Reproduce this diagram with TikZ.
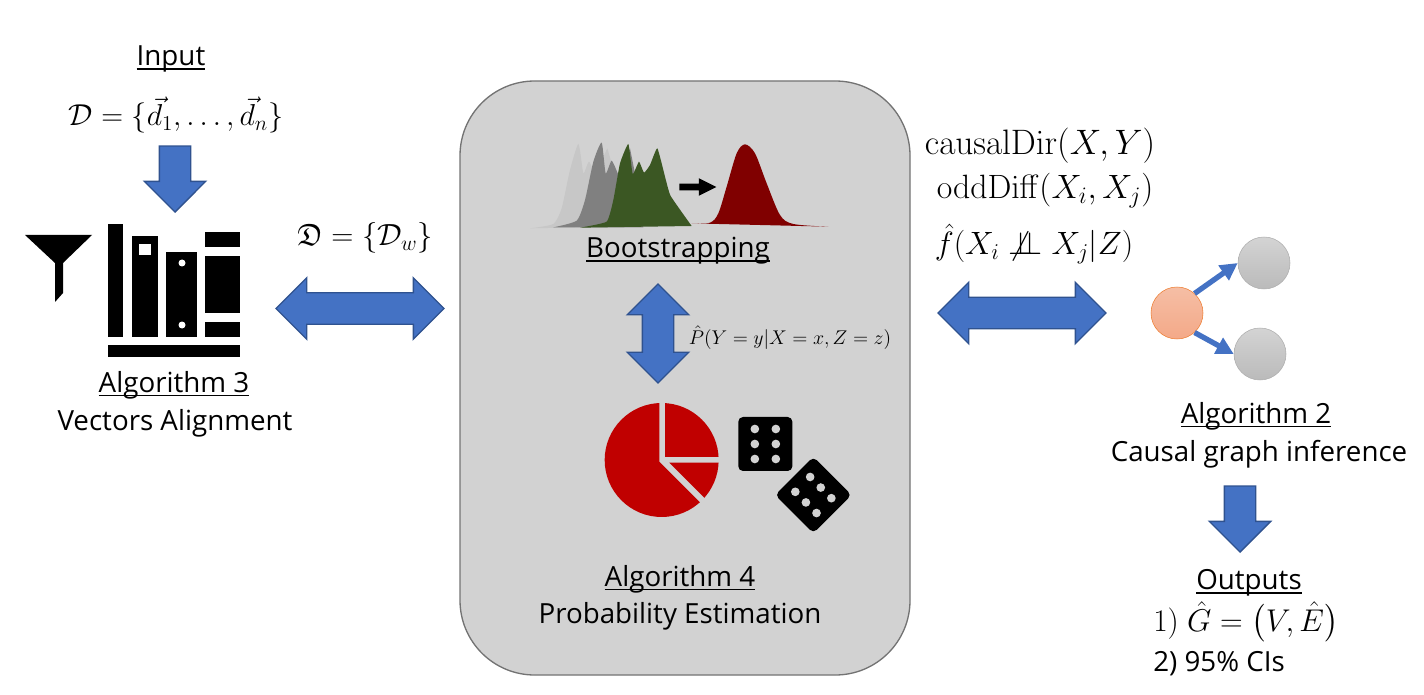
\RequirePackage{fix-cm}
\documentclass[tikz,border=0pt]{standalone}
\usepackage[no-math]{fontspec}
\usepackage{amsmath,amsfonts}
\setmainfont{Open Sans}
\usetikzlibrary{arrows.meta,shapes.arrows}

\definecolor{blockblue}{HTML}{4472C4}
\definecolor{blockedge}{HTML}{2F528F}
\definecolor{panelgray}{HTML}{D2D2D2}
\definecolor{pierred}{HTML}{C00000}
\definecolor{bootgreen}{HTML}{3B5723}
\definecolor{causeline}{HTML}{ED7D31}
\definecolor{causetop}{HTML}{F5BEA5}
\definecolor{causebottom}{HTML}{F4A988}
\def\px{0.75pt}
\newcommand{\ultext}[1]{\setbox0=\hbox{#1}\rlap{\rule[-3pt]{\wd0}{1.2pt}}\box0}

\tikzset{
    caption/.style={font=\fontsize{20.8}{24}\selectfont, inner sep=0pt},
    mathtext/.style={font=\fontsize{#1}{#1}\selectfont, inner sep=0pt},
    blockdown/.style={single arrow, fill=blockblue, draw=blockedge, line width=1pt, inner sep=15*\px,
        shape border rotate=270, anchor=tip, minimum height=66*\px, minimum width=60*\px,
        single arrow head extend=15*\px},
    blockboth/.style={double arrow, fill=blockblue, draw=blockedge, line width=1pt, inner sep=15*\px,
        minimum height=168*\px, minimum width=60*\px, double arrow head extend=15*\px},
    causenode/.style={circle, draw=causeline, top color=causetop,
        bottom color=causebottom, minimum size=52*\px, inner sep=0pt},
    effectnode/.style={circle, draw=black!32, top color=black!17, bottom color=black!27,
        minimum size=52*\px, inner sep=0pt},
    causeedge/.style={-{Triangle[length=13pt,width=13pt]}, draw=blockblue, line width=4pt},
}

\begin{document}
\begin{tikzpicture}[x=0.75pt, y=-0.75pt]
    \useasboundingbox (0,0) rectangle (1424,695);

    % Panel for algorithm 4
    \node[draw=black!55, fill=panelgray, line width=1pt, rounded corners=56pt, minimum width=450*\px,
        minimum height=594*\px] (panel) at (685,378) {};

    % Input
    \node[caption] (input) at (171,59) {\ultext{Input}};
    \node[mathtext=22.7] (dataset) at (176,115) {$\mathcal{D}=\{\vec{d}_1,\dots,\vec{d}_n\}$};
    \node[blockdown] (inarrow) at (175,213) {};

    % funnel and books
    \fill (25,235) -- (92,235) -- (63,263) -- (63,293) -- (55,302) -- (55,263) -- cycle;
    \fill (108,224) rectangle (123,337);
    \fill (132,236) rectangle (158,337);
    \fill[white] (139,244) rectangle (151,255);
    \fill (166,252) rectangle (197,337);
    \fill[white] (182,263) circle (3.5) (182,325) circle (3.5);
    \fill (205,232) rectangle (240,247);
    \fill (205,256) rectangle (240,313);
    \fill (205,322) rectangle (240,337);
    \fill (108,345) rectangle (240,357);

    % Algorithm 3
    \node[caption] (algthree) at (174,385) {\ultext{Algorithm 3}};
    \node[caption] (aligntext) at (175,423) {Vectors Alignment};

    % D to panel
    \node[mathtext=23] (windows) at (365,238) {$\mathfrak{D}=\{\mathcal{D}_w\}$};
    \node[blockboth] (leftarrow) at (360,308.5) {};

    % distributions, in 3x crop units
    \begin{scope}[shift={(510,120)}, scale=1/3]
        \fill[black!22] plot[smooth, tension=0.35] coordinates {(60,325) (130,312) (155,265) (180,150) (205,72) (218,150) (222,160) (237,125) (255,165)}
            -- (292,85) -- (305,130) -- (330,320) -- cycle;
        \fill[black!50] plot[smooth, tension=0.35] coordinates {(130,322) (200,302) (225,240) (250,125) (275,68) (287,160) (305,122) (325,165)}
            -- (360,85) -- (375,160) -- (400,322) -- cycle;
        \fill[bootgreen] plot[smooth, tension=0.25] coordinates {(210,323) (290,305) (310,240) (330,130) (355,72) (368,162) (387,125) (402,158) (420,135) (442,85) (465,170) (482,228) (545,318)} -- cycle;
        \fill[red!50!black] plot[smooth, tension=0.5] coordinates {(545,310) (600,308) (625,280) (650,200) (680,100) (705,73) (735,100) (770,190) (810,285) (850,312) (955,320)} -- cycle;
    \end{scope}
    \node[single arrow, fill=black, inner sep=3*\px, anchor=tip, minimum height=37*\px, minimum width=17*\px,
        single arrow head extend=5.5*\px, single arrow tip angle=53] (bootarrow) at (717,187) {};
    \node[caption] (bootstrap) at (678,251) {\ultext{Bootstrapping}};

    % between bootstrapping and estimation
    \node[blockboth, shape border rotate=90, minimum height=99*\px] (midarrow) at (658,333.5) {};
    \node[mathtext=14.9] (condprob) at (790,338) {$\hat{P}(Y=y|X=x,Z=z)$};

    % pie chart and dice, in 3x crop units
    \begin{scope}[shift={(590,280)}, scale=1/3]
        \begin{scope}
            \clip (215,540) circle (171);
            \fill[pierred] (208,545) -- (208,300) -- (0,300) -- (0,800) -- (463,800) -- cycle;
            \fill[pierred] (225,300) -- (450,300) -- (450,530) -- (225,530) -- cycle;
            \fill[pierred] (238,548) -- (450,548) -- (450,760) -- cycle;
        \end{scope}
        \foreach \dcx/\dcy/\drot in {526/492/0, 670/645/45} {
            \begin{scope}[shift={(\dcx,\dcy)}, rotate=\drot]
                \fill[rounded corners=3.5pt] (-81,-81) rectangle (81,81);
                \foreach \pipx in {-31.5,31.5}
                    \foreach \pipy in {-45,0,45}
                        \fill[panelgray] (\pipx,\pipy) circle (13);
            \end{scope}
        }
    \end{scope}

    % Algorithm 4
    \node[caption] (algfour) at (680,579) {\ultext{Algorithm 4}};
    \node[caption] (probtext) at (680,616) {Probability Estimation};

    % panel to graph
    \node[mathtext=26.5] (causaldir) at (1040,146) {$\mathrm{causalDir}(X,Y)$};
    \node[mathtext=25.3] (odddiff) at (1045,191) {$\mathrm{oddDiff}(X_i,X_j)$};
    \node[mathtext=24.2] (condtest) at (1034,244) {$\hat{f}(X_i\not\perp\!\!\!\perp X_j|Z)$};
    \node[blockboth] (rightarrow) at (1022,313) {};

    % causal graph
    \node[causenode] (cause) at (1177,313) {};
    \node[effectnode] (effecttop) at (1264,263) {};
    \node[effectnode] (effectbottom) at (1260,354) {};
    \draw[causeedge] (cause.48) -- (effecttop.180);
    \draw[causeedge] (cause.-48) -- (effectbottom.180);

    % Algorithm 2
    \node[caption] (algtwo) at (1256,416) {\ultext{Algorithm 2}};
    \node[caption] (graphtext) at (1259,454) {Causal graph inference};
    \node[blockdown] (outarrow) at (1240,553) {};

    % Outputs
    \node[caption] (outputs) at (1249,583) {\ultext{Outputs}};
    \node[mathtext=23.6, anchor=west] (outone) at (1153,622) {$1)~\hat{G}=\bigl(V,\hat{E}\bigr)$};
    \node[caption, anchor=west] (outtwo) at (1153,664) {2) 95\% CIs};
\end{tikzpicture}
\end{document}
